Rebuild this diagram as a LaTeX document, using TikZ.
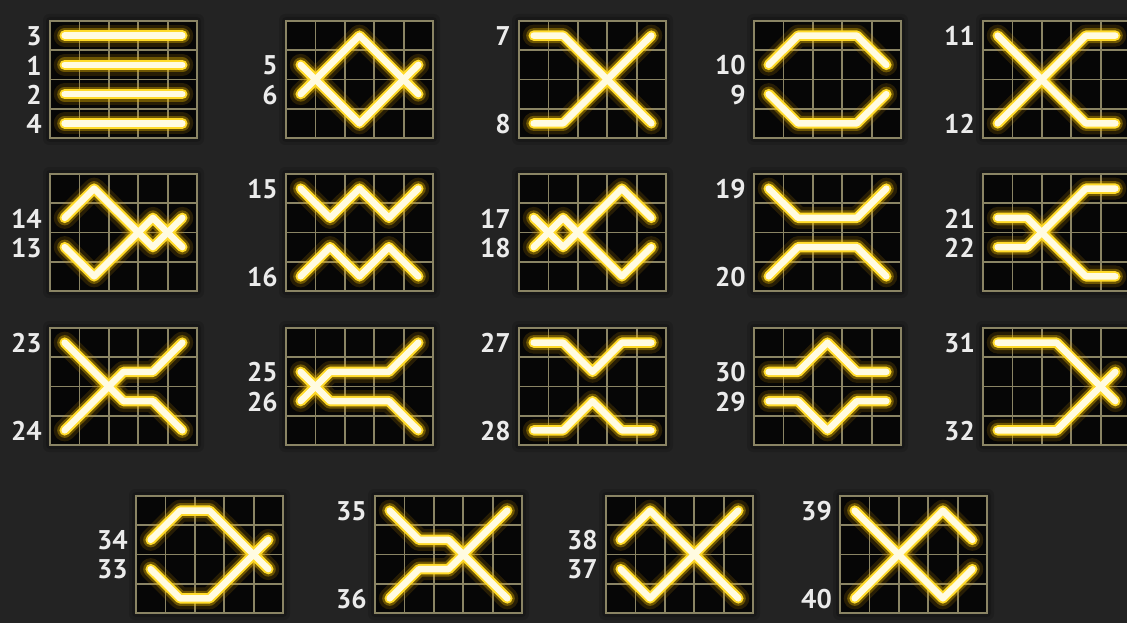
\documentclass[tikz,border=0pt]{standalone}
\usepackage{fontspec}
\setmainfont{PT Sans}
\definecolor{pagebg}{RGB}{35,35,35}
\definecolor{cellbg}{RGB}{6,6,6}
\definecolor{gridcol}{RGB}{138,132,100}
\definecolor{glowA}{RGB}{215,150,0}
\definecolor{glowB}{RGB}{240,190,0}
\definecolor{glowC}{RGB}{255,218,40}
\definecolor{corecol}{RGB}{255,251,225}
\definecolor{labelcol}{RGB}{235,235,235}
\newcommand\pl[7]{(#1+14.7,#2+14.625+#3*29.25) -- (#1+44.1,#2+14.625+#4*29.25) -- (#1+73.5,#2+14.625+#5*29.25) -- (#1+102.9,#2+14.625+#6*29.25) -- (#1+132.3,#2+14.625+#7*29.25)}
\newcommand\board[3]{%
  \fill[black,opacity=0.12,rounded corners=6] (#1-7,#2-7) rectangle ++(161,131);
  \fill[black,opacity=0.18,rounded corners=4] (#1-4,#2-4) rectangle ++(155,125);
  \fill[cellbg] (#1,#2) rectangle ++(147,117);
  \foreach \i in {1,2,3,4} \draw[gridln] (#1+\i*29.4,#2) -- ++(0,117);
  \foreach \j in {1,2,3} \draw[gridln] (#1,#2+\j*29.25) -- ++(147,0);
  \draw[gridln,line width=2.2pt] (#1,#2) rectangle ++(147,117);
}
\newcommand\lbl[4]{\node[lab] (#4) at (#1-8,#2+15.2+#3*29.25) {#4};}
\newcommand\alllines[1]{%
  \foreach \r in {0,1,2,3} \draw[#1] \pl{50}{21}{\r}{\r}{\r}{\r}{\r};
  \draw[#1] \pl{286}{21}{1}{2}{3}{2}{1};
  \draw[#1] \pl{286}{21}{2}{1}{0}{1}{2};
  \draw[#1] \pl{519}{21}{0}{0}{1}{2}{3};
  \draw[#1] \pl{519}{21}{3}{3}{2}{1}{0};
  \draw[#1] \pl{754}{21}{1}{0}{0}{0}{1};
  \draw[#1] \pl{754}{21}{2}{3}{3}{3}{2};
  \draw[#1] \pl{983}{21}{0}{1}{2}{3}{3};
  \draw[#1] \pl{983}{21}{3}{2}{1}{0}{0};
  \draw[#1] \pl{50}{174}{1}{0}{1}{2}{1};
  \draw[#1] \pl{50}{174}{2}{3}{2}{1}{2};
  \draw[#1] \pl{286}{174}{0}{1}{0}{1}{0};
  \draw[#1] \pl{286}{174}{3}{2}{3}{2}{3};
  \draw[#1] \pl{519}{174}{1}{2}{1}{0}{1};
  \draw[#1] \pl{519}{174}{2}{1}{2}{3}{2};
  \draw[#1] \pl{754}{174}{0}{1}{1}{1}{0};
  \draw[#1] \pl{754}{174}{3}{2}{2}{2}{3};
  \draw[#1] \pl{983}{174}{1}{1}{2}{3}{3};
  \draw[#1] \pl{983}{174}{2}{2}{1}{0}{0};
  \draw[#1] \pl{50}{328}{0}{1}{2}{2}{3};
  \draw[#1] \pl{50}{328}{3}{2}{1}{1}{0};
  \draw[#1] \pl{286}{328}{1}{2}{2}{2}{3};
  \draw[#1] \pl{286}{328}{2}{1}{1}{1}{0};
  \draw[#1] \pl{519}{328}{0}{0}{1}{0}{0};
  \draw[#1] \pl{519}{328}{3}{3}{2}{3}{3};
  \draw[#1] \pl{754}{328}{1}{1}{0}{1}{1};
  \draw[#1] \pl{754}{328}{2}{2}{3}{2}{2};
  \draw[#1] \pl{983}{328}{0}{0}{0}{1}{2};
  \draw[#1] \pl{983}{328}{3}{3}{3}{2}{1};
  \draw[#1] \pl{136}{496}{1}{0}{0}{1}{2};
  \draw[#1] \pl{136}{496}{2}{3}{3}{2}{1};
  \draw[#1] \pl{375}{496}{0}{1}{1}{2}{3};
  \draw[#1] \pl{375}{496}{3}{2}{2}{1}{0};
  \draw[#1] \pl{606}{496}{1}{0}{1}{2}{3};
  \draw[#1] \pl{606}{496}{2}{3}{2}{1}{0};
  \draw[#1] \pl{840}{496}{0}{1}{2}{3}{2};
  \draw[#1] \pl{840}{496}{3}{2}{1}{0}{1};
}
\begin{document}
\begin{tikzpicture}[x=1pt,y=-1pt,
  gridln/.style={draw=gridcol,line width=1.8pt},
  lab/.style={anchor=east,inner sep=0pt,text=labelcol,font=\fontsize{27}{27}\selectfont\bfseries},
  lyA/.style={draw=glowA,line width=22pt,opacity=0.16,line cap=round,line join=round},
  lyB/.style={draw=glowB,line width=15pt,opacity=0.35,line cap=round,line join=round},
  lyC/.style={draw=glowC,line width=10.5pt,line cap=round,line join=round},
  lyD/.style={draw=corecol,line width=6.5pt,line cap=round,line join=round}]
\useasboundingbox (0,0) rectangle (1127,623);
\fill[pagebg] (0,0) rectangle (1127,623);
\clip (0,0) rectangle (1127,623);
\foreach \x in {50,286,519,754,983} {\board{\x}{21}{}}
\foreach \x in {50,286,519,754,983} {\board{\x}{174}{}}
\foreach \x in {50,286,519,754,983} {\board{\x}{328}{}}
\foreach \x in {136,375,606,840} {\board{\x}{496}{}}
\alllines{lyA}
\alllines{lyB}
\alllines{lyC}
\alllines{lyD}
\lbl{50}{21}{0}{3}\lbl{50}{21}{1}{1}\lbl{50}{21}{2}{2}\lbl{50}{21}{3}{4}
\lbl{286}{21}{1}{5}\lbl{286}{21}{2}{6}
\lbl{519}{21}{0}{7}\lbl{519}{21}{3}{8}
\lbl{754}{21}{1}{10}\lbl{754}{21}{2}{9}
\lbl{983}{21}{0}{11}\lbl{983}{21}{3}{12}
\lbl{50}{174}{1}{14}\lbl{50}{174}{2}{13}
\lbl{286}{174}{0}{15}\lbl{286}{174}{3}{16}
\lbl{519}{174}{1}{17}\lbl{519}{174}{2}{18}
\lbl{754}{174}{0}{19}\lbl{754}{174}{3}{20}
\lbl{983}{174}{1}{21}\lbl{983}{174}{2}{22}
\lbl{50}{328}{0}{23}\lbl{50}{328}{3}{24}
\lbl{286}{328}{1}{25}\lbl{286}{328}{2}{26}
\lbl{519}{328}{0}{27}\lbl{519}{328}{3}{28}
\lbl{754}{328}{1}{30}\lbl{754}{328}{2}{29}
\lbl{983}{328}{0}{31}\lbl{983}{328}{3}{32}
\lbl{136}{496}{1}{34}\lbl{136}{496}{2}{33}
\lbl{375}{496}{0}{35}\lbl{375}{496}{3}{36}
\lbl{606}{496}{1}{38}\lbl{606}{496}{2}{37}
\lbl{840}{496}{0}{39}\lbl{840}{496}{3}{40}
\end{tikzpicture}
\end{document}
